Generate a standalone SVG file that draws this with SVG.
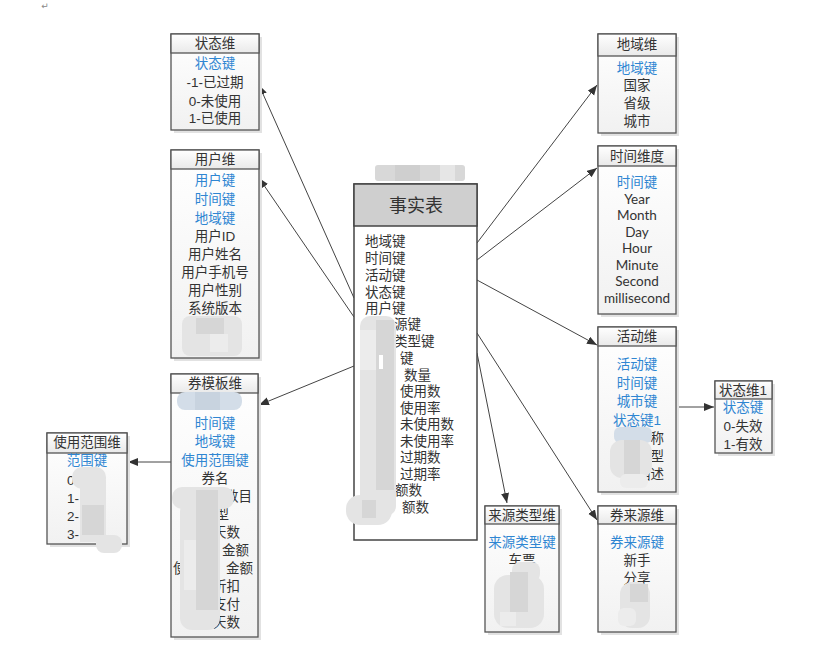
<svg xmlns="http://www.w3.org/2000/svg" width="824" height="645" viewBox="0 0 824 645">
<style>
  text { font-family: "Liberation Sans", "Noto Sans CJK SC", sans-serif; font-size: 13.5px; fill: #333; text-anchor: middle; }
  .key { fill: #2f86d2; }
  .fl { text-anchor: start; font-size: 13.5px; }
  .fe { text-anchor: end; }
  .fs { text-anchor: start; }
  .sm { font-family: "Lato", "Liberation Sans", sans-serif; font-size: 13.5px; }
  .box { fill: url(#bodyG); stroke: #555; stroke-width: 1.3; }
  .hdr { fill: url(#hdrG); stroke: #555; stroke-width: 1.3; }
  .shd { fill: #e2e2e2; }
  .edge { stroke: #444; stroke-width: 1; fill: none; marker-end: url(#ah); }
  .b1 { fill: #e4e4e4; }
  .b2 { fill: #d6d6d6; }
  .b3 { fill: #ececec; }
  .bb { fill: #d3dde8; }
</style>
<defs>
  <linearGradient id="bodyG" x1="0" y1="0" x2="0" y2="1">
    <stop offset="0" stop-color="#ffffff"/>
    <stop offset="1" stop-color="#f1f1f1"/>
  </linearGradient>
  <linearGradient id="hdrG" x1="0" y1="0" x2="0" y2="1">
    <stop offset="0" stop-color="#ffffff"/>
    <stop offset="1" stop-color="#e9e9e9"/>
  </linearGradient>
  <marker id="ah" markerUnits="userSpaceOnUse" markerWidth="11" markerHeight="9" refX="10" refY="4" orient="auto">
    <path d="M0,0 L10,4 L0,8 z" fill="#333"/>
  </marker>
</defs>
<rect x="0" y="0" width="824" height="645" fill="#ffffff"/>
<text x="45" y="9" style="font-family:'DejaVu Sans',sans-serif;font-size:9px;fill:#888">↵</text>

<g id="connectors">
  <line class="edge" x1="354" y1="298" x2="259" y2="85"/>
  <line class="edge" x1="354" y1="317" x2="259" y2="178"/>
  <line class="edge" x1="354" y1="366" x2="259" y2="405"/>
  <line class="edge" x1="171" y1="462" x2="128" y2="462"/>
  <line class="edge" x1="477" y1="243" x2="597" y2="85"/>
  <line class="edge" x1="477" y1="260" x2="597" y2="168"/>
  <line class="edge" x1="477" y1="280" x2="597" y2="345"/>
  <line class="edge" x1="477" y1="333" x2="597" y2="520"/>
  <line class="edge" x1="477" y1="353" x2="507" y2="503"/>
  <line class="edge" x1="676" y1="407" x2="714" y2="407"/>
</g>

<g id="fact">
  <rect x="375" y="165" width="90" height="16" rx="3" fill="#d8d8d8"/>
  <rect x="395" y="165" width="25" height="16" fill="#cfcfcf"/>
  <rect x="440" y="165" width="15" height="16" fill="#e6e6e6"/>
  <rect x="354" y="184" width="123" height="356" fill="#ffffff" stroke="#444" stroke-width="1.5"/>
  <rect x="354" y="184" width="123" height="42" fill="#cfcfcf" stroke="#444" stroke-width="1.5"/>
  <text x="416" y="212" style="font-size:18px">事实表</text>
  <text class="fl" x="365" y="246">地域键</text>
  <text class="fl" x="365" y="263">时间键</text>
  <text class="fl" x="365" y="280">活动键</text>
  <text class="fl" x="365" y="297">状态键</text>
  <text class="fl" x="365" y="313">用户键</text>
  <text class="fl" x="394" y="329">源键</text>
  <text class="fl" x="394" y="346">类型键</text>
  <text class="fl" x="400" y="363">键</text>
  <text class="fl" x="404" y="380">数量</text>
  <text class="fl" x="400" y="396">使用数</text>
  <text class="fl" x="400" y="413">使用率</text>
  <text class="fl" x="400" y="429">未使用数</text>
  <text class="fl" x="400" y="446">未使用率</text>
  <text class="fl" x="400" y="462">过期数</text>
  <text class="fl" x="400" y="479">过期率</text>
  <text class="fl" x="395" y="495">额数</text>
  <text class="fl" x="402" y="512">额数</text>
  <rect class="b1" x="360" y="316" width="36" height="200" rx="10"/>
  <rect class="b2" x="376" y="320" width="18" height="170"/>
  <rect class="b3" x="360" y="330" width="16" height="40"/>
  <rect class="b1" x="346" y="495" width="46" height="30" rx="14"/>
  <rect class="b2" x="362" y="500" width="14" height="18"/>
  <rect x="379" y="355" width="4" height="14" fill="#fff"/>
</g>

<g id="dim-status">
  <rect class="shd" x="174" y="37" width="88" height="96"/>
  <rect class="box" x="171" y="34" width="88" height="96"/>
  <rect class="hdr" x="171" y="34" width="88" height="19"/>
  <text x="215" y="48">状态维</text>
  <text class="key" x="215" y="68">状态键</text>
  <text x="215" y="87">-1-已过期</text>
  <text x="215" y="106">0-未使用</text>
  <text x="215" y="123">1-已使用</text>
</g>

<g id="dim-user">
  <rect class="shd" x="174" y="153" width="88" height="208"/>
  <rect class="box" x="171" y="150" width="88" height="208"/>
  <rect class="hdr" x="171" y="150" width="88" height="19"/>
  <text x="215" y="164">用户维</text>
  <text class="key" x="215" y="185">用户键</text>
  <text class="key" x="215" y="204">时间键</text>
  <text class="key" x="215" y="223">地域键</text>
  <text x="215" y="241">用户ID</text>
  <text x="215" y="259">用户姓名</text>
  <text x="215" y="277">用户手机号</text>
  <text x="215" y="295">用户性别</text>
  <text x="215" y="313">系统版本</text>
  <rect class="b1" x="182" y="316" width="60" height="40" rx="8"/>
  <rect class="b2" x="196" y="318" width="28" height="16"/>
  <rect class="b3" x="210" y="334" width="18" height="18"/>
</g>

<g id="dim-coupon-tpl">
  <rect class="shd" x="174" y="377" width="87" height="263"/>
  <rect class="box" x="171" y="374" width="87" height="263"/>
  <rect class="hdr" x="171" y="374" width="87" height="19"/>
  <text x="215" y="388">券模板维</text>
  <rect class="bb" x="177" y="392" width="65" height="18" rx="8"/>
  <rect x="195" y="392" width="25" height="18" fill="#c8d3df"/>
  <text class="key" x="215" y="428">时间键</text>
  <text class="key" x="215" y="446">地域键</text>
  <text class="key" x="215" y="465">使用范围键</text>
  <text x="215" y="483">券名</text>
  <text class="fe" x="252" y="501">数目</text>
  <text class="fe" x="229" y="519">型</text>
  <text class="fe" x="240" y="537">天数</text>
  <text class="fe" x="249" y="555">金额</text>
  <text class="fs" x="173" y="573">使</text>
  <text class="fe" x="253" y="573">金额</text>
  <text class="fe" x="240" y="591">折扣</text>
  <text class="fe" x="240" y="609">支付</text>
  <text class="fs" x="187" y="627">有</text>
  <text class="fe" x="240" y="627">天数</text>
  <rect class="b1" x="172" y="487" width="62" height="22" rx="10"/>
  <rect class="b1" x="180" y="500" width="40" height="130" rx="12"/>
  <rect class="b2" x="196" y="490" width="22" height="120"/>
  <rect class="b3" x="184" y="540" width="12" height="50"/>
</g>

<g id="dim-scope">
  <rect class="shd" x="50" y="436" width="80" height="111"/>
  <rect class="box" x="47" y="433" width="80" height="111"/>
  <rect class="hdr" x="47" y="433" width="80" height="20"/>
  <text x="87" y="447">使用范围维</text>
  <text class="key" x="87" y="465">范围键</text>
  <text class="fs" x="67" y="485">0</text>
  <text class="fs" x="67" y="503">1-</text>
  <text class="fs" x="67" y="521">2-</text>
  <text class="fs" x="67" y="539">3-</text>
  <rect class="b1" x="72" y="467" width="34" height="22" rx="10"/>
  <rect class="b1" x="80" y="480" width="26" height="62"/>
  <rect class="b2" x="82" y="505" width="22" height="30"/>
  <rect class="b1" x="96" y="535" width="26" height="18" rx="8"/>
</g>

<g id="dim-region">
  <rect class="shd" x="601" y="37" width="78" height="99"/>
  <rect class="box" x="598" y="34" width="78" height="99"/>
  <rect class="hdr" x="598" y="34" width="78" height="22"/>
  <text x="637" y="49">地域维</text>
  <text class="key" x="637" y="73">地域键</text>
  <text x="637" y="90">国家</text>
  <text x="637" y="108">省级</text>
  <text x="637" y="126">城市</text>
</g>

<g id="dim-time">
  <rect class="shd" x="601" y="149" width="78" height="168"/>
  <rect class="box" x="598" y="146" width="78" height="168"/>
  <rect class="hdr" x="598" y="146" width="78" height="20"/>
  <text x="637" y="161">时间维度</text>
  <text class="key" x="637" y="187">时间键</text>
  <text class="sm" x="637" y="204">Year</text>
  <text class="sm" x="637" y="220">Month</text>
  <text class="sm" x="637" y="237">Day</text>
  <text class="sm" x="637" y="253">Hour</text>
  <text class="sm" x="637" y="270">Minute</text>
  <text class="sm" x="637" y="286">Second</text>
  <text class="sm" x="637" y="303">millisecond</text>
</g>

<g id="dim-activity">
  <rect class="shd" x="601" y="330" width="78" height="165"/>
  <rect class="box" x="598" y="327" width="78" height="165"/>
  <rect class="hdr" x="598" y="327" width="78" height="19"/>
  <text x="637" y="341">活动维</text>
  <text class="key" x="637" y="369">活动键</text>
  <text class="key" x="637" y="388">时间键</text>
  <text class="key" x="637" y="406">城市键</text>
  <text class="key" x="637" y="425">状态键1</text>
  <text class="fe" x="664" y="443">称</text>
  <text class="fe" x="664" y="461">类型</text>
  <text class="fe" x="664" y="479">描述</text>
  <rect class="bb" x="614" y="427" width="38" height="16" rx="6"/>
  <rect class="b1" x="610" y="440" width="42" height="38" rx="12"/>
  <rect class="b2" x="624" y="440" width="16" height="34"/>
  <rect class="b3" x="620" y="474" width="28" height="14" rx="6"/>
</g>

<g id="dim-status1">
  <rect class="shd" x="718" y="384" width="57" height="72"/>
  <rect class="box" x="715" y="381" width="57" height="72"/>
  <rect class="hdr" x="715" y="381" width="57" height="18"/>
  <text x="743" y="395">状态维1</text>
  <text class="key" x="743" y="412">状态键</text>
  <text x="743" y="431">0-失效</text>
  <text x="743" y="449">1-有效</text>
</g>

<g id="dim-source-type">
  <rect class="shd" x="488" y="509" width="74" height="126"/>
  <rect class="box" x="485" y="506" width="74" height="126"/>
  <rect class="hdr" x="485" y="506" width="74" height="18"/>
  <text x="522" y="520">来源类型维</text>
  <text class="key" x="522" y="547">来源类型键</text>
  <text x="522" y="565">车票</text>
  <rect class="b1" x="512" y="562" width="28" height="20" rx="8"/>
  <rect class="b1" x="494" y="575" width="50" height="53" rx="14"/>
  <rect class="b2" x="510" y="572" width="18" height="40"/>
  <rect class="b3" x="500" y="612" width="16" height="14"/>
</g>

<g id="dim-coupon-source">
  <rect class="shd" x="601" y="509" width="78" height="126"/>
  <rect class="box" x="598" y="506" width="78" height="126"/>
  <rect class="hdr" x="598" y="506" width="78" height="18"/>
  <text x="637" y="520">券来源维</text>
  <text class="key" x="637" y="547">券来源键</text>
  <text x="637" y="565">新手</text>
  <text x="637" y="583">分享</text>
  <rect class="b1" x="620" y="582" width="30" height="46" rx="12"/>
  <rect class="b2" x="630" y="584" width="18" height="18"/>
  <rect class="b3" x="618" y="608" width="18" height="18" rx="6"/>
</g>
</svg>
